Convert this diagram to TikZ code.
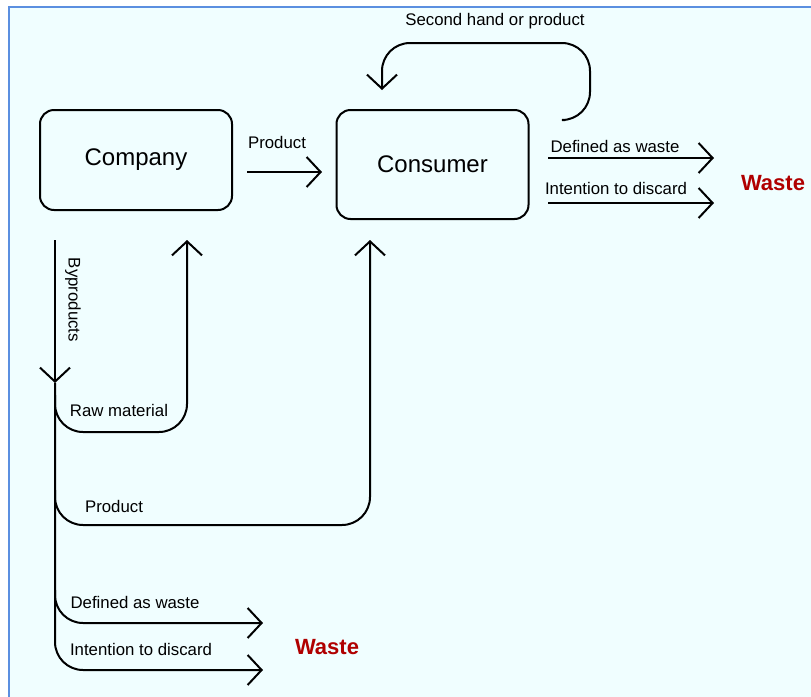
\documentclass[tikz,border=0pt]{standalone}
\usepackage{fontspec}
\setmainfont{Liberation Sans}
\usetikzlibrary{arrows.meta}
\definecolor{bgcyan}{HTML}{F0FEFF}
\definecolor{frameblue}{HTML}{5B8FE0}
\definecolor{wastered}{HTML}{B00000}

\begin{document}
\begin{tikzpicture}[x=0.5pt,y=-0.5pt,
  box/.style={draw,line width=1pt,rounded corners=7pt,minimum width=96pt,font=\fontsize{12}{14}\selectfont},
  flow/.style={line width=1pt,-{Straight Barb[length=7pt,width=15pt,line width=1pt]},rounded corners=14pt},
  lbl/.style={font=\fontsize{8.4}{10}\selectfont,inner sep=1pt},
  waste/.style={font=\bfseries\fontsize{11}{13}\selectfont,text=wastered}]
\useasboundingbox (0,0) rectangle (811,697);
\fill[white] (0,0) rectangle (811,697);
\fill[bgcyan] (9,7) rectangle (811,697);
\draw[frameblue,line width=1.2pt] (9,697) -- (9,7) -- (811,7);
\node[box,minimum height=50pt] (comp) at (136,160) {Company};
\node[box,minimum height=54.5pt] (cons) at (432.5,164.5) {Consumer};
\coordinate (P1) at (247,172); \coordinate (P2) at (322,172);
\coordinate (L1) at (565,120); \coordinate (L2) at (382,90);
\coordinate (R1) at (548,158); \coordinate (R2) at (714,158);
\coordinate (R3) at (548,203); \coordinate (R4) at (714,203);
\coordinate (T) at (55,240); \coordinate (Tb) at (55,383);
\coordinate (M) at (187,240); \coordinate (C) at (370,240);
\coordinate (W1) at (263,623); \coordinate (W2) at (263,670);
\draw[flow] (P1) -- (P2);
\draw[flow] (L1) -- (590,120) -- (590,43) -- (382,43) -- (L2);
\draw[flow] (R1) -- (R2);
\draw[flow] (R3) -- (R4);
\draw[flow] (T) -- (Tb);
\draw[flow] (Tb) -- (T |- W2) -- (W2);
\draw[flow] (55,395) -- (55,432) -- (M |- 0,432) -- (M);
\draw[flow] (55,490) -- (55,525) -- (C |- 0,525) -- (C);
\draw[flow] (55,590) -- (T |- W1) -- (W1);
\node[lbl] (lprod) at (277,142) {Product};
\node[lbl] (lsec) at (495,21) {Second hand or product};
\node[lbl] (ldef) at (615,146) {Defined as waste};
\node[lbl] (lint) at (616,188) {Intention to discard};
\node[waste] (wr) at (773,183) {Waste};
\node[lbl,rotate=-90] (lbyp) at (73,300) {Byproducts};
\node[lbl] (lraw) at (119,410) {Raw material};
\node[lbl] (lprod2) at (114,506) {Product};
\node[lbl] (ldef2) at (135,602) {Defined as waste};
\node[lbl] (lint2) at (141,649) {Intention to discard};
\node[waste] (wb) at (327,647) {Waste};
\end{tikzpicture}
\end{document}
